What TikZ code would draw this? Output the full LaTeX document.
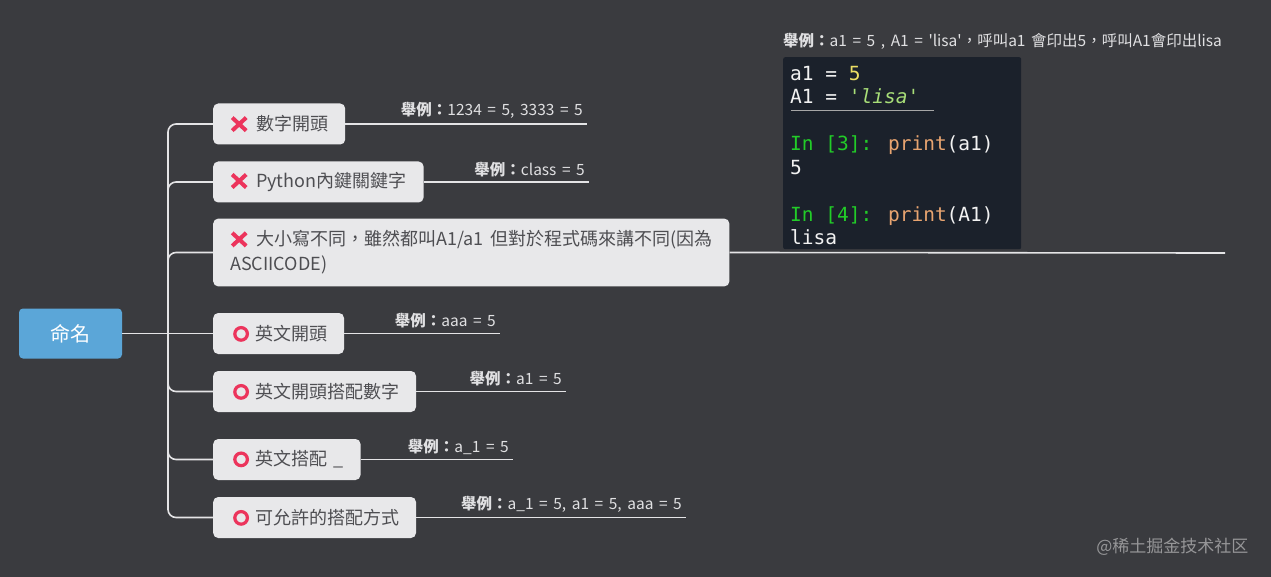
\documentclass[tikz,border=0pt]{standalone}
\usepackage{fontspec}
\setmainfont{Noto Sans CJK TC}[WordSpace=1.6]
\newfontfamily\codefont{DejaVu Sans Mono}
\usepackage{tikz}
\usetikzlibrary{positioning}
\definecolor{bgdark}{RGB}{58,59,63}
\definecolor{rootblue}{RGB}{91,166,216}
\definecolor{boxgray}{RGB}{232,232,234}
\definecolor{boxtext}{RGB}{78,78,82}
\definecolor{markred}{RGB}{236,52,92}
\definecolor{linegray}{RGB}{228,228,230}
\definecolor{notetext}{RGB}{224,224,226}
\definecolor{codebg}{RGB}{27,33,43}
\definecolor{codewhite}{RGB}{242,242,242}
\definecolor{codeyellow}{RGB}{236,222,100}
\definecolor{codegreen}{RGB}{168,222,120}
\definecolor{codeprompt}{RGB}{34,204,40}
\definecolor{codeorange}{RGB}{232,164,112}
\definecolor{marktext}{RGB}{150,150,152}
\tikzstyle{topic} = [rectangle, fill=rootblue, text=white, rounded corners=4pt, minimum width=103pt, minimum height=50pt, font=\fontsize{20}{24}\selectfont]
\tikzstyle{subtopic} = [rectangle, fill=boxgray, text=boxtext, rounded corners=5pt, anchor=west, minimum height=41pt, inner xsep=17pt, font=\fontsize{18}{25}\selectfont, align=left]
\tikzstyle{branch} = [draw=linegray, line width=1.6pt, rounded corners=8pt]
\tikzstyle{example} = [text=notetext, anchor=south east, inner xsep=4pt, inner ysep=5pt, font=\fontsize{15.5}{18}\selectfont]
\tikzstyle{codepanel} = [rectangle, fill=codebg, rounded corners=2pt, anchor=north west, minimum width=238pt, minimum height=192pt]
\tikzstyle{code} = [text=codewhite, anchor=north west, inner sep=0pt, align=left, font=\codefont\fontsize{19.5}{23.5}\selectfont]
\newcommand\crossicon{\tikz[baseline=-6.5pt]\draw[markred, line width=4pt] (-7pt,-6.5pt) -- (7pt,6.5pt) (-7pt,6.5pt) -- (7pt,-6.5pt);\hspace{8pt}}
\newcommand\ringicon{\hspace{3pt}\tikz[baseline=-6.5pt]\draw[markred, line width=3.2pt] (0pt,0pt) circle (6.3pt);\hspace{6pt}}
\newcommand\eg{{\bfseries 舉例：}}
\begin{document}
\begin{tikzpicture}[x=1pt, y=-1pt]
\fill [bgdark] (0,0) rectangle (1271,577);
\useasboundingbox (0,0) rectangle (1271,577);

\node [topic] at (70.5,333.5) (naming) {命名};
\coordinate (trunk) at (168,333.5);

\node [subtopic] at (213,124) (rule1) {\crossicon 數字開頭};
\node [subtopic] at (213,182) (rule2) {\crossicon Python內鍵關鍵字};
\node [subtopic, inner ysep=12pt] at (213,252.5) (rule3) {\crossicon 大小寫不同，雖然都叫A1/a1 但對於程式碼來講不同(因為\\ASCIICODE)};
\node [subtopic] at (213,333.5) (rule4) {\ringicon 英文開頭};
\node [subtopic] at (213,391.5) (rule5) {\ringicon 英文開頭搭配數字};
\node [subtopic] at (213,459.5) (rule6) {\ringicon 英文搭配 \_};
\node [subtopic] at (213,517.5) (rule7) {\ringicon 可允許的搭配方式};

\coordinate (end1) at (587,124);
\coordinate (end2) at (589,182);
\coordinate (end3) at (1225,253);
\coordinate (end4) at (500,333.5);
\coordinate (end5) at (566,391.5);
\coordinate (end6) at (513,459.5);
\coordinate (end7) at (686,517.5);

\node [example] at (end1) (note1) {\eg 1234 = 5, 3333 = 5};
\node [example] at (end2) (note2) {\eg class = 5};
\node [example] at (end4) (note4) {\eg aaa = 5};
\node [example] at (end5) (note5) {\eg a1 = 5};
\node [example] at (end6) (note6) {\eg a\_1 = 5};
\node [example] at (end7) (note7) {\eg a\_1 = 5, a1 = 5, aaa = 5};

% code screenshot on the case rule
\node [codepanel] at (783,57) (shot) {};
\node [example, anchor=south west, inner xsep=0pt] at (783,55) (note3) {\eg a1 = 5 , A1 = \textquotesingle lisa\textquotesingle，呼叫a1 會印出5，呼叫A1會印出lisa};
\node [code] at (790,66) (snippet) {a1 = {\color{codeyellow}5}\\
A1 = {\itshape\color{codegreen}'lisa'}\\
\mbox{}\\
{\color{codeprompt}In [3]:} {\color{codeorange}print}(a1)\\
5\\
\mbox{}\\
{\color{codeprompt}In [4]:} {\color{codeorange}print}(A1)\\
lisa};
\draw [draw=gray!70, line width=0.8pt] (791,110) -- (934,110);

\path [branch] (naming.east) -- (trunk);
\path [branch] (trunk) |- (rule1.west);
\path [branch] (trunk) |- (rule2.west);
\path [branch] (trunk) |- (rule3.west);
\path [branch] (trunk) -- (rule4.west);
\path [branch] (trunk) |- (rule5.west);
\path [branch] (trunk) |- (rule6.west);
\path [branch] (trunk) |- (rule7.west);

\path [branch] (rule1.east) -- (end1);
\path [branch] (rule2.east) -- (end2);
\path [branch] (rule3.east) -- (end3);
\path [branch] (rule4.east) -- (end4);
\path [branch] (rule5.east) -- (end5);
\path [branch] (rule6.east) -- (end6);
\path [branch] (rule7.east) -- (end7);

\node [text=marktext, anchor=east, font=\fontsize{17}{20}\selectfont] at (1252,547) (watermark) {@稀土掘金技术社区};
\end{tikzpicture}
\end{document}
